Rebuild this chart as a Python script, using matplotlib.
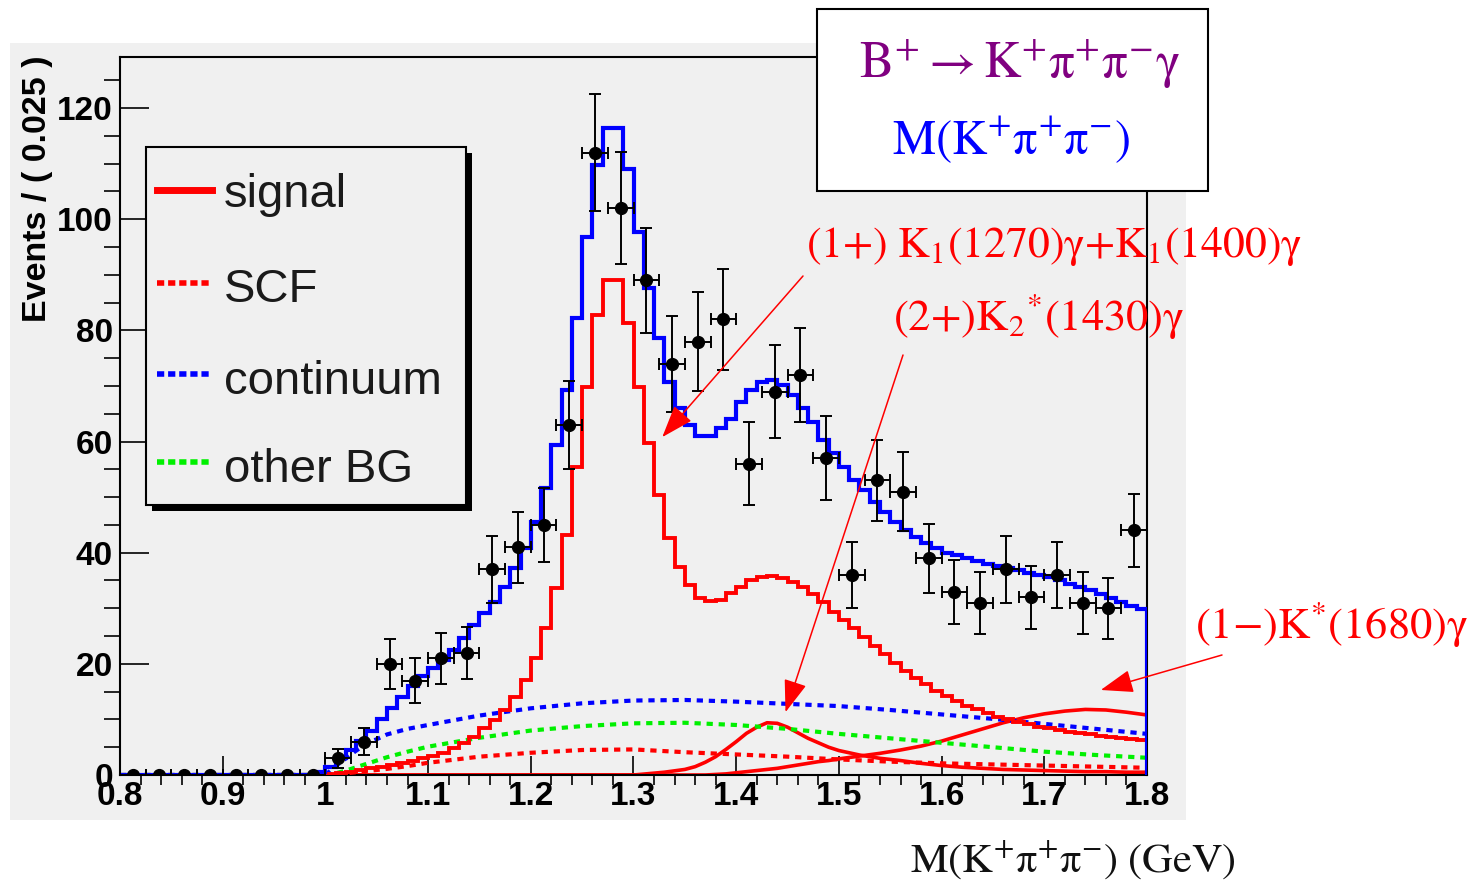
import matplotlib
matplotlib.use('Agg')
import matplotlib.pyplot as plt
import numpy as np
from matplotlib.patches import Rectangle
from matplotlib.lines import Line2D
from matplotlib.ticker import MultipleLocator

plt.rcParams['font.family'] = ['Liberation Sans', 'DejaVu Sans']
plt.rcParams['mathtext.fontset'] = 'stix'

# fit curves are histograms with 0.01 wide bins from 0.80 to 1.80
fit_lo, fit_hi, fit_nbins = 0.80, 1.80, 100

total_fit = [
    0, 0, 0, 0, 0, 0, 0, 0, 0, 0,
    0, 0, 0, 0, 0, 0, 0, 0, 0, 0.5,
    1.5, 3.0, 4.5, 6.2, 8.0, 10.0, 12.0, 14.0, 16.0, 17.8,
    19.3, 20.7, 22.5, 24.6, 27.0, 29.1, 31.2, 33.9, 37.2, 40.8,
    45.6, 51.6, 59.4, 69.2, 82.2, 96.8, 109.7, 116.5, 116.5, 109.0,
    97.7, 87.6, 78.6, 70.7, 66.0, 63.0, 61.0, 61.0, 62.4, 64.1,
    67.1, 69.2, 70.7, 71.1, 70.1, 68.3, 66.0, 63.5, 60.3, 57.9,
    55.5, 53.1, 51.3, 49.2, 47.4, 45.6, 44.1, 42.9, 41.7, 40.8,
    40.0, 39.5, 39.0, 38.5, 38.0, 37.6, 37.2, 36.8, 36.4, 36.0,
    35.6, 35.0, 34.4, 33.8, 33.2, 32.6, 31.9, 31.2, 30.5, 29.8,
]

signal_fit = [
    0, 0, 0, 0, 0, 0, 0, 0, 0, 0,
    0, 0, 0, 0, 0, 0, 0, 0, 0, 0,
    0.2, 0.4, 0.6, 0.9, 1.2, 1.5, 1.8, 2.2, 2.6, 3.0,
    3.4, 3.9, 4.8, 5.7, 6.9, 8.4, 9.9, 11.7, 14.1, 17.1,
    21.0, 26.4, 33.6, 43.2, 55.5, 69.8, 82.7, 89.0, 89.0, 81.3,
    69.8, 59.7, 50.4, 42.6, 37.5, 34.2, 31.8, 31.3, 31.5, 32.7,
    33.9, 35.0, 35.6, 35.8, 35.5, 34.8, 33.8, 32.6, 31.1, 29.4,
    27.9, 26.4, 24.8, 23.2, 21.7, 20.2, 18.8, 17.5, 16.3, 15.2,
    14.2, 13.3, 12.5, 11.8, 11.1, 10.5, 10.0, 9.5, 9.1, 8.7,
    8.4, 8.1, 7.8, 7.5, 7.3, 7.1, 6.9, 6.7, 6.5, 6.3,
]

# background shapes (dotted)
bkg_x = [0.80, 1.00, 1.01, 1.02, 1.03, 1.04, 1.06, 1.08, 1.10, 1.15, 1.20, 1.25,
         1.30, 1.35, 1.40, 1.45, 1.50, 1.55, 1.60, 1.65, 1.70, 1.75, 1.80]
continuum = [0, 0, 1.6, 3.0, 4.4, 5.6, 7.3, 8.3, 9.0, 10.7, 12.0, 12.9,
             13.4, 13.5, 13.2, 12.8, 12.4, 11.7, 10.9, 10.1, 9.2, 8.3, 7.4]
other_bg = [0, 0, 0.3, 0.8, 1.4, 2.0, 3.2, 4.2, 5.1, 6.7, 8.0, 8.8,
            9.3, 9.4, 9.0, 8.3, 7.4, 6.6, 5.8, 5.0, 4.2, 3.6, 3.1]
scf = [0, 0, 0.1, 0.3, 0.5, 0.7, 1.1, 1.6, 2.2, 3.3, 4.0, 4.5,
       4.6, 4.1, 3.7, 3.3, 2.8, 2.4, 2.1, 1.9, 1.7, 1.5, 1.3]

# resonance components (solid red)
comp_x = [0.80, 1.30, 1.33, 1.35, 1.36, 1.37, 1.38, 1.39, 1.40, 1.41, 1.42, 1.43,
          1.44, 1.45, 1.46, 1.47, 1.48, 1.49, 1.50, 1.52, 1.54, 1.56, 1.58, 1.60,
          1.62, 1.64, 1.66, 1.68, 1.70, 1.72, 1.74, 1.76, 1.78, 1.80]
k2_1430 = [0, 0, 0.5, 1.0, 1.5, 2.3, 3.3, 4.6, 6.0, 7.5, 8.6, 9.4,
           9.3, 8.6, 7.6, 6.6, 5.8, 5.0, 4.4, 3.6, 3.0, 2.6, 2.1, 1.7,
           1.4, 1.2, 1.0, 0.9, 0.8, 0.7, 0.6, 0.6, 0.5, 0.5]
kst_1680 = [0, 0, 0, 0, 0, 0, 0.1, 0.2, 0.4, 0.6, 0.8, 1.0,
            1.2, 1.5, 1.8, 2.1, 2.4, 2.6, 2.9, 3.4, 3.9, 4.5, 5.2, 6.1,
            7.2, 8.3, 9.4, 10.3, 11.0, 11.5, 11.8, 11.7, 11.3, 10.8]

# data: 0.025 wide bins
data_lo, data_w = 0.80, 0.025
counts = [0, 0, 0, 0, 0, 0, 0, 0, 3, 6,
          20, 17, 21, 22, 37, 41, 45, 63, 112, 102,
          89, 74, 78, 82, 56, 69, 72, 57, 36, 53,
          51, 39, 33, 31, 37, 32, 36, 31, 30, 44]

W, H = 1469, 885


def fx(px):
    return px / W


def fy(py):
    return 1 - py / H


fig = plt.figure(figsize=(W / 100, H / 100), dpi=100)
fig.patch.set_facecolor('white')

# grey pad behind the frame
fig.add_artist(Rectangle((fx(10), fy(820)), (1186 - 10) / W, (820 - 43) / H,
                         transform=fig.transFigure, facecolor='#f0f0f0',
                         edgecolor='none', zorder=-1))

ax = fig.add_axes([fx(120), fy(775), (1147 - 120) / W, (775 - 57) / H])
ax.set_facecolor('#f0f0f0')

dots = (0, (1.5, 1.4))
edges = np.linspace(fit_lo, fit_hi, fit_nbins + 1)
ax.plot(comp_x, k2_1430, color='red', lw=2.6, zorder=2)
ax.plot(comp_x, kst_1680, color='red', lw=2.6, zorder=2)
ax.plot(bkg_x, scf, color='red', lw=3, ls=dots, zorder=3)
ax.plot(bkg_x, other_bg, color='#00f000', lw=3, ls=dots, zorder=3)
ax.plot(bkg_x, continuum, color='blue', lw=3, ls=dots, zorder=3)
ax.stairs(signal_fit, edges, color='red', lw=2.8, zorder=4)
ax.stairs(total_fit, edges, color='blue', lw=3.0, zorder=5)

counts = np.array(counts, dtype=float)
centers = data_lo + data_w * (np.arange(len(counts)) + 0.5)
ax.errorbar(centers, counts, xerr=data_w / 2, yerr=np.sqrt(counts), fmt='o',
            color='black', ms=8.5, elinewidth=1.4, capsize=4, capthick=1.4,
            zorder=6)

ax.set_xlim(0.8, 1.8)
ax.set_ylim(0, 129.2)
ax.set_xticks(np.arange(0.8, 1.801, 0.1))
ax.set_xticklabels(['0.8', '0.9', '1', '1.1', '1.2', '1.3', '1.4', '1.5',
                    '1.6', '1.7', '1.8'])
ax.set_yticks(np.arange(0, 121, 20))
ax.xaxis.set_minor_locator(MultipleLocator(0.02))
ax.yaxis.set_minor_locator(MultipleLocator(5))
ax.tick_params(direction='in', top=False, right=False, width=1.2,
               labelsize=24, colors='black')
ax.tick_params(axis='x', which='major', length=14, pad=4)
ax.tick_params(axis='x', which='minor', length=7, width=1.2)
ax.tick_params(axis='y', which='major', length=21, pad=5)
ax.tick_params(axis='y', which='minor', length=11.5, width=1.2)
for lab in ax.get_xticklabels() + ax.get_yticklabels():
    lab.set_fontweight('bold')
for sp in ax.spines.values():
    sp.set_linewidth(1.5)

fig.text(fx(38), fy(55), 'Events / ( 0.025 )', rotation=90, ha='center',
         va='top', fontsize=24.5, fontweight='bold')

# legend box with shadow
fig.add_artist(Rectangle((fx(152), fy(511)), (472 - 152) / W, (511 - 153) / H,
                         transform=fig.transFigure, facecolor='black',
                         edgecolor='none', zorder=7))
fig.add_artist(Rectangle((fx(146), fy(505)), (466 - 146) / W, (505 - 147) / H,
                         transform=fig.transFigure, facecolor='#f0f0f0',
                         edgecolor='black', lw=1.5, zorder=7.1))
leg_entries = [('signal', 'red', '-', 190, 207),
               ('SCF', 'red', ':', 283, 302),
               ('continuum', 'blue', ':', 374, 394),
               ('other BG', '#00f000', ':', 462, 482)]
for name, col, style, ly, by in leg_entries:
    ls = '-' if style == '-' else (0, (1.3, 0.7))
    lw = 5 if style == '-' else 4
    fig.add_artist(Line2D([fx(157), fx(212)], [fy(ly), fy(ly)],
                          transform=fig.transFigure, color=col, lw=lw, ls=ls,
                          zorder=7.2))
    fig.text(fx(224), fy(by), name, fontsize=34, color='#1a1a1a',
             va='baseline', ha='left', zorder=7.2)

# title box
fig.add_artist(Rectangle((fx(817), fy(191)), (1208 - 817) / W, (191 - 9) / H,
                         transform=fig.transFigure, facecolor='white',
                         edgecolor='black', lw=1.5, zorder=8))
fig.text(fx(1020), fy(78),
         r'$\mathrm{B^{+}\rightarrow K^{+}\pi^{+}\pi^{-}\gamma}$',
         fontsize=37, color='#800080', ha='center', va='baseline', zorder=9)
fig.text(fx(1011), fy(154), r'$\mathrm{M(K^{+}\pi^{+}\pi^{-})}$',
         fontsize=35, color='blue', ha='center', va='baseline', zorder=9)

# resonance labels and arrows
fig.text(fx(806), fy(257),
         r'$\mathrm{(1{+})\ K_{1}(1270)\gamma{+}K_{1}(1400)\gamma}$',
         fontsize=31.5, color='red', ha='left', va='baseline', zorder=9)
fig.text(fx(893), fy(330), r'$\mathrm{(2{+})K_{2}{}^{*}(1430)\gamma}$',
         fontsize=32, color='red', ha='left', va='baseline', zorder=9)
fig.text(fx(1195), fy(638), r'$\mathrm{(1{-})K^{*}(1680)\gamma}$',
         fontsize=32, color='red', ha='left', va='baseline', zorder=9)

arrow_style = dict(arrowstyle='-|>,head_length=0.45,head_width=0.16',
                   color='red', lw=1.1, mutation_scale=45,
                   shrinkA=0, shrinkB=0)
ax.annotate('', xy=(1.328, 60.8), xycoords='data',
            xytext=(fx(803), fy(276)), textcoords='figure fraction',
            arrowprops=arrow_style, annotation_clip=False, zorder=8)
ax.annotate('', xy=(1.448, 11.3), xycoords='data',
            xytext=(fx(903), fy(355)), textcoords='figure fraction',
            arrowprops=arrow_style, annotation_clip=False, zorder=8)
ax.annotate('', xy=(1.755, 15.3), xycoords='data',
            xytext=(fx(1222), fy(655)), textcoords='figure fraction',
            arrowprops=arrow_style, annotation_clip=False, zorder=8)

# axis title in the bottom right
fig.text(fx(910), fy(872), r'$\mathrm{M(K^{+}\pi^{+}\pi^{-})\ (GeV)}$',
         fontsize=30.5, color='#111111', ha='left', va='baseline')

fig.savefig('out.png', dpi=100)
